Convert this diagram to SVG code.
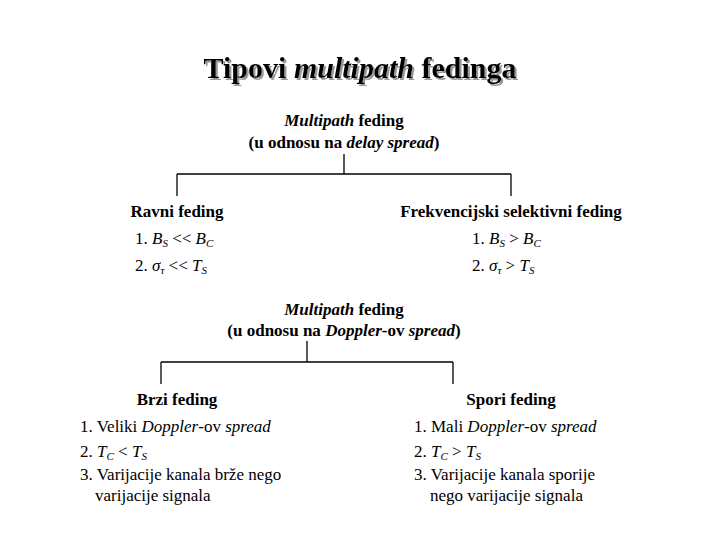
<svg xmlns="http://www.w3.org/2000/svg" width="720" height="540" viewBox="0 0 720 540" font-family="'Liberation Serif', 'Times New Roman', serif">
<style>
text, tspan{font-family:'Liberation Serif', 'DejaVu Serif', serif;fill:#000}
.b{font-weight:bold;font-size:17px}
.r{font-size:17px}
.t{font-weight:bold;font-size:30px}
.i{font-style:italic}
.s{font-size:11px}
.c{text-anchor:middle}
line{stroke:#000;stroke-width:1.3}
</style>
<defs>
<filter id="sh" x="-5%" y="-20%" width="110%" height="150%">
<feDropShadow dx="2" dy="2" stdDeviation="0.6" flood-color="#999"/>
</filter>
</defs>
<rect width="720" height="540" fill="#fff"/>
<g id="title">
<text class="t c" x="360" y="78" filter="url(#sh)">Tipovi <tspan class="i">multipath</tspan> fedinga</text>
</g>
<g id="connectors">
<line x1="344" y1="154" x2="344" y2="174"/>
<line x1="177" y1="174" x2="511" y2="174"/>
<line x1="177" y1="174" x2="177" y2="196"/>
<line x1="511" y1="174" x2="511" y2="196"/>
<line x1="307" y1="341" x2="307" y2="362"/>
<line x1="161" y1="362" x2="453" y2="362"/>
<line x1="161" y1="362" x2="161" y2="384"/>
<line x1="453" y1="362" x2="453" y2="384"/>
</g>
<g id="root1">
<text class="b c" x="344" y="126"><tspan class="i">Multipath</tspan> feding</text>
<text class="b c" x="344" y="148">(u odnosu na <tspan class="i">delay spread</tspan>)</text>
</g>
<g id="ravni">
<text class="b c" x="177" y="217">Ravni feding</text>
<text class="r" x="135" y="244">1.  <tspan class="i">B</tspan><tspan class="i s" dy="3">S</tspan><tspan dy="-3"> &lt;&lt; </tspan><tspan class="i">B</tspan><tspan class="i s" dy="3">C</tspan></text>
<text class="r" x="135" y="271">2.  <tspan class="i">σ</tspan><tspan class="i s" dy="3">τ</tspan><tspan dy="-3"> &lt;&lt; </tspan><tspan class="i">T</tspan><tspan class="i s" dy="3">S</tspan></text>
</g>
<g id="frekv">
<text class="b c" x="511" y="217">Frekvencijski selektivni feding</text>
<text class="r" x="472" y="244">1.  <tspan class="i">B</tspan><tspan class="i s" dy="3">S</tspan><tspan dy="-3"> &gt; </tspan><tspan class="i">B</tspan><tspan class="i s" dy="3">C</tspan></text>
<text class="r" x="472" y="271">2.  <tspan class="i">σ</tspan><tspan class="i s" dy="3">τ</tspan><tspan dy="-3"> &gt; </tspan><tspan class="i">T</tspan><tspan class="i s" dy="3">S</tspan></text>
</g>
<g id="root2">
<text class="b c" x="344" y="315"><tspan class="i">Multipath</tspan> feding</text>
<text class="b c" x="344" y="336">(u odnosu na <tspan class="i">Doppler</tspan>-ov <tspan class="i">spread</tspan>)</text>
</g>
<g id="brzi">
<text class="b c" x="177" y="405">Brzi feding</text>
<text class="r" x="80" y="432">1. Veliki <tspan class="i">Doppler</tspan>-ov <tspan class="i">spread</tspan></text>
<text class="r" x="80" y="457">2. <tspan class="i">T</tspan><tspan class="i s" dy="3">C</tspan><tspan dy="-3"> &lt; </tspan><tspan class="i">T</tspan><tspan class="i s" dy="3">S</tspan></text>
<text class="r" x="80" y="480">3. Varijacije kanala brže nego</text>
<text class="r" x="95" y="501">varijacije signala</text>
</g>
<g id="spori">
<text class="b c" x="511" y="405">Spori feding</text>
<text class="r" x="414" y="432">1. Mali <tspan class="i">Doppler</tspan>-ov <tspan class="i">spread</tspan></text>
<text class="r" x="414" y="457">2. <tspan class="i">T</tspan><tspan class="i s" dy="3">C</tspan><tspan dy="-3"> &gt; </tspan><tspan class="i">T</tspan><tspan class="i s" dy="3">S</tspan></text>
<text class="r" x="414" y="480">3. Varijacije kanala sporije</text>
<text class="r" x="430" y="501">nego varijacije signala</text>
</g>
</svg>
